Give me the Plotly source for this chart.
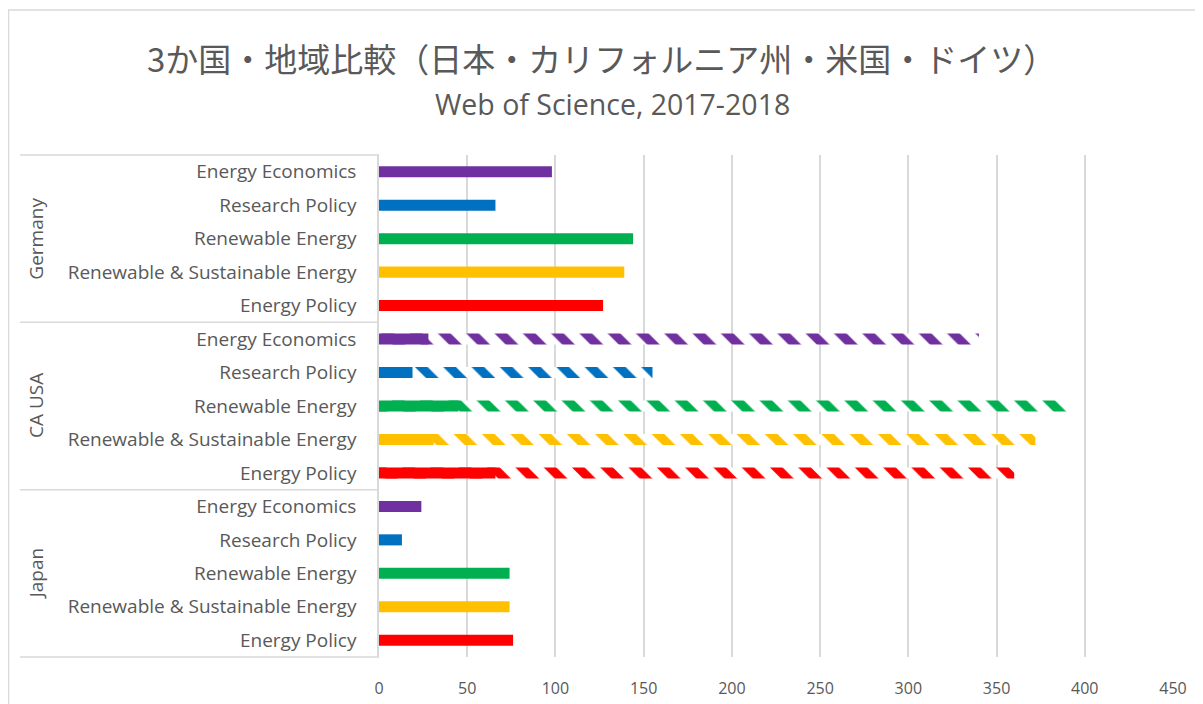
import plotly.graph_objects as go

# ---- data ----
regions = ["Japan", "CA USA", "Germany"]          # bottom to top
journals = ["Energy Policy", "Renewable & Sustainable Energy", "Renewable Energy",
            "Research Policy", "Energy Economics"]  # bottom to top within group
colors = ["#FF0000", "#FFC000", "#00B050", "#0070C0", "#7030A0"]

japan = [76, 74, 74, 13, 24]
california = [66, 31, 45, 19, 28]
usa = [360, 372, 390, 155, 340]
germany = [127, 139, 144, 66, 98]

x_ticks = [0, 50, 100, 150, 200, 250, 300, 350, 400, 450]

solid_values = {"Japan": japan, "CA USA": california, "Germany": germany}

# ---- layout constants (page is offset by 8px body margin) ----
OFF = 8
W, H = 1203 - OFF, 704 - OFF
L, R, T, B = 379 - OFF, 30, 155 - OFF, 47
pw, ph = W - L - R, H - T - B
TXT = "#595959"
GRID = "#D9D9D9"
FONT = "Open Sans, Noto Sans CJK JP"

def px2x(px):
    return (px - OFF - L) / pw

def py2y(py):
    return (H - B - (py - OFF)) / ph

cats = [f"{r}|{j}" for r in regions for j in journals]
ticktext = [j for r in regions for j in journals]

fig = go.Figure()

# hatched USA bars (drawn first, underneath)
for j, jn in enumerate(journals):
    fig.add_trace(go.Bar(
        orientation="h",
        y=[f"CA USA|{jn}"],
        x=[usa[j]],
        marker=dict(color=colors[j], line=dict(width=0),
                    pattern=dict(shape="\\", size=20, solidity=0.45,
                                 fillmode="replace", bgcolor="white",
                                 fgcolor=colors[j])),
        showlegend=False, hoverinfo="x+y",
    ))

# solid bars
for j, jn in enumerate(journals):
    fig.add_trace(go.Bar(
        orientation="h",
        y=[f"{r}|{jn}" for r in regions],
        x=[solid_values[r][j] for r in regions],
        marker=dict(color=colors[j], line=dict(width=0)),
        showlegend=False, hoverinfo="x+y",
    ))

shapes = []
# outer chart border
shapes.append(dict(type="rect", xref="paper", yref="paper",
                   x0=px2x(8.5), x1=px2x(1215), y0=py2y(720), y1=py2y(10),
                   line=dict(color=GRID, width=1.5), fillcolor="rgba(0,0,0,0)", layer="below"))
# group dividers
for k in range(4):
    yy = k / 3
    shapes.append(dict(type="line", xref="paper", yref="paper",
                       x0=px2x(20), x1=0, y0=yy, y1=yy,
                       line=dict(color=GRID, width=1.5)))

annotations = [
    dict(text="3か国・地域比較（日本・カリフォルニア州・米国・ドイツ）",
         xref="paper", yref="paper", x=px2x(601), y=py2y(58),
         showarrow=False, xanchor="center", yanchor="middle",
         font=dict(family="Noto Sans CJK JP", size=33, color=TXT)),
    dict(text="Web of Science, 2017-2018",
         xref="paper", yref="paper", x=px2x(612), y=py2y(104),
         showarrow=False, xanchor="center", yanchor="middle",
         font=dict(family=FONT, size=28.5, color=TXT)),
]
for i, r in enumerate(regions):
    annotations.append(dict(text=r, xref="paper", yref="paper",
                            x=px2x(36), y=(i + 0.5) / 3, textangle=-90,
                            showarrow=False, xanchor="center", yanchor="middle",
                            font=dict(family=FONT, size=19, color=TXT)))

fig.update_layout(
    width=W, height=H,
    margin=dict(l=L, r=R, t=T, b=B, autoexpand=False),
    paper_bgcolor="white", plot_bgcolor="white",
    barmode="overlay", bargap=0.67,
    font=dict(family=FONT, color=TXT),
    shapes=shapes, annotations=annotations,
    xaxis=dict(range=[0, 450], tickvals=x_ticks, showgrid=True, gridcolor=GRID,
               gridwidth=1.5, zeroline=False, showline=False,
               tickfont=dict(size=16, color=TXT), ticklabelstandoff=20),
    yaxis=dict(type="category", categoryorder="array", categoryarray=cats,
               tickvals=cats, ticktext=ticktext, showgrid=False,
               showline=True, linecolor=GRID, linewidth=1.5,
               tickfont=dict(size=19, color=TXT), ticklabelstandoff=17),
)

fig.write_html("out.html")
